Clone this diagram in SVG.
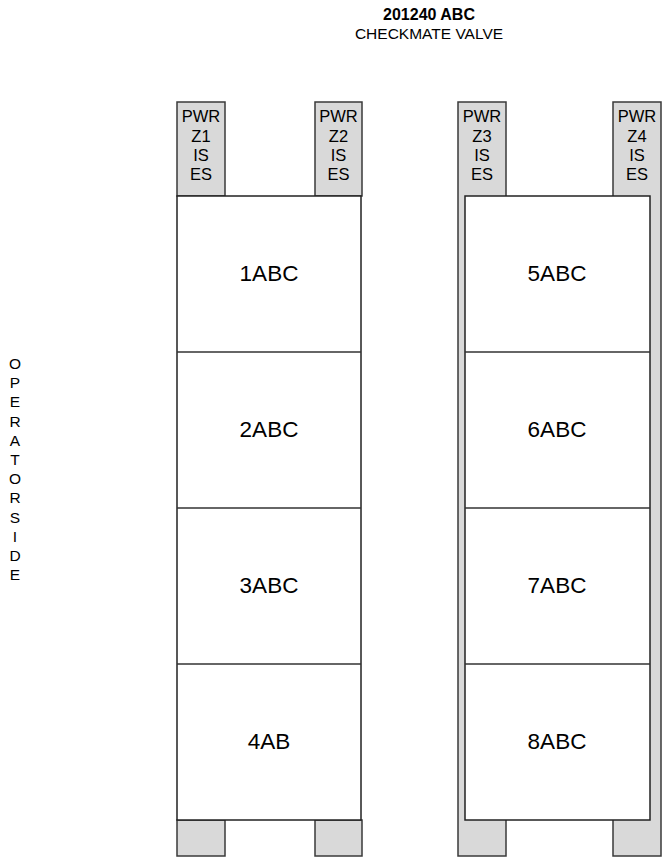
<svg xmlns="http://www.w3.org/2000/svg" width="670" height="858" viewBox="0 0 670 858">
<style>
.leg{fill:#d9d9d9;stroke:#3a3a3a;stroke-width:1.5}
.box{fill:#ffffff;stroke:#222;stroke-width:1.5}
.div{stroke:#333;stroke-width:1.5}
text{font-family:"Liberation Sans",Arial,sans-serif;fill:#000;text-anchor:middle}
.pwr{font-size:16.5px}
.lbl{font-size:22.5px}
.side{font-size:15.5px}
</style>
<rect x="0" y="0" width="670" height="858" fill="#fff"/>
<g id="title">
<text x="429" y="20" style="font-size:16px;font-weight:bold">201240 ABC</text>
<text x="429" y="39" style="font-size:15.5px">CHECKMATE VALVE</text>
</g>
<g id="operator-side">
<text x="15" y="369" class="side">O</text>
<text x="15" y="388" class="side">P</text>
<text x="15" y="407" class="side">E</text>
<text x="15" y="427" class="side">R</text>
<text x="15" y="446" class="side">A</text>
<text x="15" y="465" class="side">T</text>
<text x="15" y="484" class="side">O</text>
<text x="15" y="503" class="side">R</text>
<text x="15" y="523" class="side">S</text>
<text x="15" y="542" class="side">I</text>
<text x="15" y="561" class="side">D</text>
<text x="15" y="580" class="side">E</text>
</g>
<g id="left-rack">
<rect class="leg" x="177" y="102" width="48" height="94"/>
<rect class="leg" x="315" y="102" width="47" height="94"/>
<rect class="leg" x="177" y="820" width="48" height="36"/>
<rect class="leg" x="315" y="820" width="47" height="36"/>
<rect class="box" x="177" y="196" width="184" height="624"/>
<line class="div" x1="177" y1="352" x2="361" y2="352"/>
<line class="div" x1="177" y1="508" x2="361" y2="508"/>
<line class="div" x1="177" y1="664" x2="361" y2="664"/>
</g>
<g id="right-rack">
<rect class="leg" x="458" y="102" width="48" height="754"/>
<rect class="leg" x="613" y="102" width="48" height="754"/>
<rect class="box" x="465" y="196" width="185" height="624"/>
<line class="div" x1="465" y1="352" x2="650" y2="352"/>
<line class="div" x1="465" y1="508" x2="650" y2="508"/>
<line class="div" x1="465" y1="664" x2="650" y2="664"/>
</g>
<g id="pwr-z1">
<text x="201" y="122" class="pwr">PWR</text><text x="201" y="141.5" class="pwr">Z1</text><text x="201" y="161" class="pwr">IS</text><text x="201" y="180" class="pwr">ES</text>
</g>
<g id="pwr-z2">
<text x="338.5" y="122" class="pwr">PWR</text><text x="338.5" y="141.5" class="pwr">Z2</text><text x="338.5" y="161" class="pwr">IS</text><text x="338.5" y="180" class="pwr">ES</text>
</g>
<g id="pwr-z3">
<text x="482" y="122" class="pwr">PWR</text><text x="482" y="141.5" class="pwr">Z3</text><text x="482" y="161" class="pwr">IS</text><text x="482" y="180" class="pwr">ES</text>
</g>
<g id="pwr-z4">
<text x="637" y="122" class="pwr">PWR</text><text x="637" y="141.5" class="pwr">Z4</text><text x="637" y="161" class="pwr">IS</text><text x="637" y="180" class="pwr">ES</text>
</g>
<g id="n1ABC"><text x="269" y="281" class="lbl">1ABC</text></g>
<g id="n2ABC"><text x="269" y="437" class="lbl">2ABC</text></g>
<g id="n3ABC"><text x="269" y="593" class="lbl">3ABC</text></g>
<g id="n4AB"><text x="269" y="749" class="lbl">4AB</text></g>
<g id="n5ABC"><text x="557" y="281" class="lbl">5ABC</text></g>
<g id="n6ABC"><text x="557" y="437" class="lbl">6ABC</text></g>
<g id="n7ABC"><text x="557" y="593" class="lbl">7ABC</text></g>
<g id="n8ABC"><text x="557" y="749" class="lbl">8ABC</text></g>
<g id="connectors"></g>
</svg>
